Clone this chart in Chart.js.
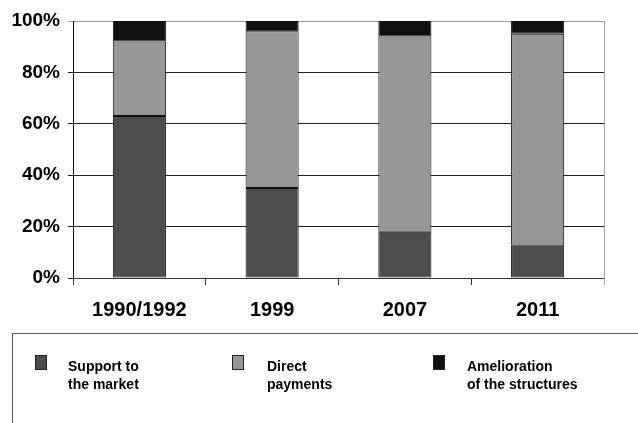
<!DOCTYPE html>
<html>
<head>
<meta charset="utf-8">
<script src="https://cdn.jsdelivr.net/npm/chart.js@4/dist/chart.umd.min.js"></script>
<style>
    html, body { margin: 0; padding: 0; background: #fff; overflow: hidden; }
    #wrap { position: relative; width: 638px; height: 423px; }
    #chart { position: absolute; left: 0; top: 0; }
    #legend-box {
        position: absolute; left: 12px; top: 333px;
        width: 700px; height: 200px;
        border: 1px solid #555; box-sizing: border-box;
    }
    .leg-item { position: absolute; top: 355px; }
    .leg-swatch {
        position: absolute; width: 12px; height: 15px;
        border: 1px solid #222; box-sizing: border-box;
    }
    .leg-text {
        position: absolute; top: 2px; white-space: nowrap;
        font: bold 14px "Liberation Sans", Arial, sans-serif;
        line-height: 18px; color: #000;
    }
</style>
</head>
<body>
<div id="wrap">
    <canvas id="chart" width="638" height="423"></canvas>
    <div id="legend-box"></div>
    <div id="legend"></div>
</div>
<script>
const years = ["1990/1992", "1999", "2007", "2011"];
const supportMarket = [63, 35, 18, 13];
const directPayments = [29, 61, 76, 82];
const ameliorationStructures = [8, 4, 6, 5];

const seriesNames = [["Support to", "the market"], ["Direct", "payments"], ["Amelioration", "of the structures"]];
const seriesColors = ["#4d4d4d", "#979797", "#111111"];
const legendX = [35, 232, 433];

const FONT = '"Liberation Sans", Arial, sans-serif';

// gray frame line on the right side of the plot
const rightFrame = {
    id: "rightFrame",
    afterDraw(chart) {
        const { ctx, chartArea } = chart;
        ctx.save();
        ctx.strokeStyle = "#a0a0a0";
        ctx.lineWidth = 1;
        ctx.beginPath();
        ctx.moveTo(Math.round(chartArea.right) + 0.5, chartArea.top);
        ctx.lineTo(Math.round(chartArea.right) + 0.5, chartArea.bottom + 7);
        ctx.stroke();
        ctx.restore();
    }
};

const chart = new Chart(document.getElementById("chart"), {
    type: "bar",
    data: {
        labels: years,
        datasets: [supportMarket, directPayments, ameliorationStructures].map((d, i) => ({
            label: seriesNames[i].join(" "),
            data: d,
            backgroundColor: seriesColors[i],
            borderColor: "#111",
            borderWidth: 1,
            borderSkipped: false,
            barPercentage: 0.4,
            categoryPercentage: 1.0,
        }))
    },
    options: {
        responsive: false,
        animation: false,
        layout: { padding: { left: 0, top: 21, right: 34, bottom: 105 } },
        plugins: { legend: { display: false }, tooltip: { enabled: false } },
        scales: {
            x: {
                stacked: true,
                grid: { drawOnChartArea: false, tickLength: 7, color: "#333", offset: true },
                border: { color: "#333", width: 1 },
                ticks: { color: "#000", padding: 13, font: { family: FONT, size: 20, weight: "bold" } },
                afterFit(scale) { scale.height = 40; }
            },
            y: {
                stacked: true,
                min: 0,
                max: 100,
                grid: {
                    tickLength: 5,
                    color: (c) => c.tick && c.tick.value === 100 ? "#999" : "#222",
                },
                border: { color: "#000", width: 1 },
                ticks: {
                    stepSize: 20,
                    padding: 8,
                    color: "#000",
                    font: { family: FONT, size: 19, weight: "bold" },
                    callback: (v) => v + "%"
                },
                afterFit(scale) { scale.width = 73; }
            }
        }
    },
    plugins: [rightFrame]
});

// html legend built from the datasets
const legend = document.getElementById("legend");
chart.data.datasets.forEach((ds, i) => {
    const item = document.createElement("div");
    item.className = "leg-item";
    item.style.left = legendX[i] + "px";
    item.innerHTML = `
        <div class="leg-swatch" style="background:${ds.backgroundColor}"></div>
        <div class="leg-text" style="left:${i === 0 ? 33 : i === 1 ? 35 : 34}px">${seriesNames[i][0]}<br>${seriesNames[i][1]}</div>
    `;
    legend.appendChild(item);
});
</script>
</body>
</html>
